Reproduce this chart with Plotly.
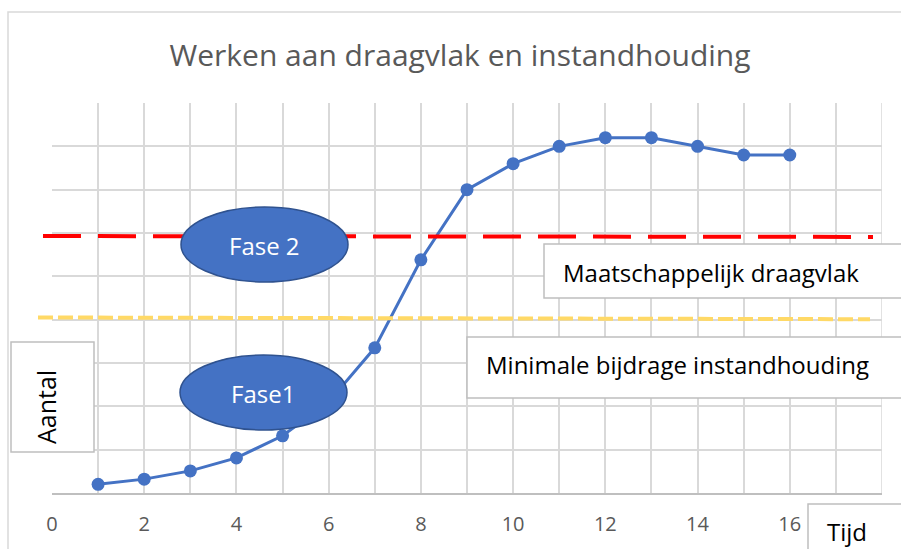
import plotly.graph_objects as go

# Curve: number of participants over time
tijd = [1, 2, 3, 4, 5, 6, 7, 8, 9, 10, 11, 12, 13, 14, 15, 16]
aantal = [0.2, 0.32, 0.51, 0.81, 1.32, 2.1, 3.35, 5.38, 7.0, 7.6, 8.0, 8.2, 8.2, 8.0, 7.8, 7.8]

# Threshold levels (start, end) in axis units
draagvlak_niveau = [5.93, 5.91]
instandhouding_niveau = [4.05, 4.01]

x_ticks = [0, 2, 4, 6, 8, 10, 12, 14, 16]

FONT = "Open Sans"
GRID = "#D9D9D9"
BLUE = "#4472C4"

fig = go.Figure()
fig.add_trace(go.Scatter(
    x=tijd, y=aantal, mode="lines+markers",
    line=dict(color=BLUE, width=3),
    marker=dict(color=BLUE, size=13),
    showlegend=False, hoverinfo="skip",
))

# plot area: 52..882 px horizontally, 103..493 px vertically
def px(xp):
    return (xp - 52) / 830.0

def py(yp):
    return (493 - yp) / 390.0

shapes = []
# outer chart border
shapes.append(dict(type="rect", xref="paper", yref="paper",
                   x0=px(8), x1=px(960), y0=py(600), y1=py(12),
                   line=dict(color=GRID, width=1.5), fillcolor="rgba(0,0,0,0)", layer="below"))
# threshold lines
shapes.append(dict(type="line", xref="paper", yref="y",
                   x0=px(43), x1=px(873), y0=draagvlak_niveau[0], y1=draagvlak_niveau[1],
                   line=dict(color="#FF0000", width=4, dash="38px,17px")))
shapes.append(dict(type="line", xref="paper", yref="y",
                   x0=px(38), x1=px(870), y0=instandhouding_niveau[0], y1=instandhouding_niveau[1],
                   line=dict(color="#FFD966", width=4, dash="15px,5px")))
# label boxes
boxes = [
    (544, 960, 244, 298),   # Maatschappelijk draagvlak
    (467, 960, 337, 398),   # Minimale bijdrage instandhouding
    (11, 94, 342, 452),     # Aantal
    (808, 960, 504, 600),   # Tijd
]
for x0, x1, y0, y1 in boxes:
    shapes.append(dict(type="rect", xref="paper", yref="paper",
                       x0=px(x0), x1=px(x1), y0=py(y1), y1=py(y0),
                       line=dict(color="#BFBFBF", width=1.5), fillcolor="white"))
# phase ellipses
for x0, x1, y0, y1 in [(181, 348, 207, 282), (180, 347, 355, 430)]:
    shapes.append(dict(type="circle", xref="paper", yref="paper",
                       x0=px(x0), x1=px(x1), y0=py(y1), y1=py(y0),
                       line=dict(color="#2F528F", width=1.5), fillcolor=BLUE))

annotations = [
    dict(text="Maatschappelijk draagvlak", x=px(711), y=py(272), size=24, color="black"),
    dict(text="Minimale bijdrage instandhouding", x=px(677), y=py(364), size=24, color="black"),
    dict(text="Tijd", x=px(847), y=py(531), size=24, color="black"),
    dict(text="Fase 2", x=px(264), y=py(245), size=24, color="white"),
    dict(text="Fase1", x=px(263), y=py(393), size=24, color="white"),
]
ann = []
for a in annotations:
    ann.append(dict(text=a["text"], x=a["x"], y=a["y"], xref="paper", yref="paper",
                    xanchor="center", yanchor="middle", showarrow=False,
                    font=dict(family=FONT, size=a["size"], color=a["color"])))
ann.append(dict(text="Aantal", x=px(46), y=py(407), xref="paper", yref="paper",
                xanchor="center", yanchor="middle", showarrow=False, textangle=-90,
                font=dict(family=FONT, size=25, color="black")))

fig.update_layout(
    width=901, height=549,
    margin=dict(l=52, r=19, t=103, b=56, autoexpand=False),
    paper_bgcolor="white", plot_bgcolor="white",
    title=dict(text="Werken aan draagvlak en instandhouding",
               x=px(460), xref="paper", xanchor="center",
               y=1 - 55 / 549, yref="container", yanchor="middle",
               font=dict(family=FONT, size=30, color="#595959")),
    shapes=shapes, annotations=ann,
    xaxis=dict(range=[0, 18], tickvals=x_ticks, automargin=False,
               showgrid=False, zeroline=False,
               showline=True, linecolor="#BFBFBF", linewidth=2,
               ticks="", ticklabelstandoff=12,
               tickfont=dict(family=FONT, size=20, color="#595959"),
               minor=dict(dtick=1, showgrid=True, gridcolor=GRID, gridwidth=1.5, tick0=0)),
    yaxis=dict(range=[0, 9], dtick=1, showticklabels=False, automargin=False,
               showgrid=True, gridcolor=GRID, gridwidth=1.5,
               zeroline=False, showline=False),
)
# right plot edge gridline
fig.add_vline(x=18, line=dict(color=GRID, width=1.5), layer="below")

fig.write_html("out.html")
